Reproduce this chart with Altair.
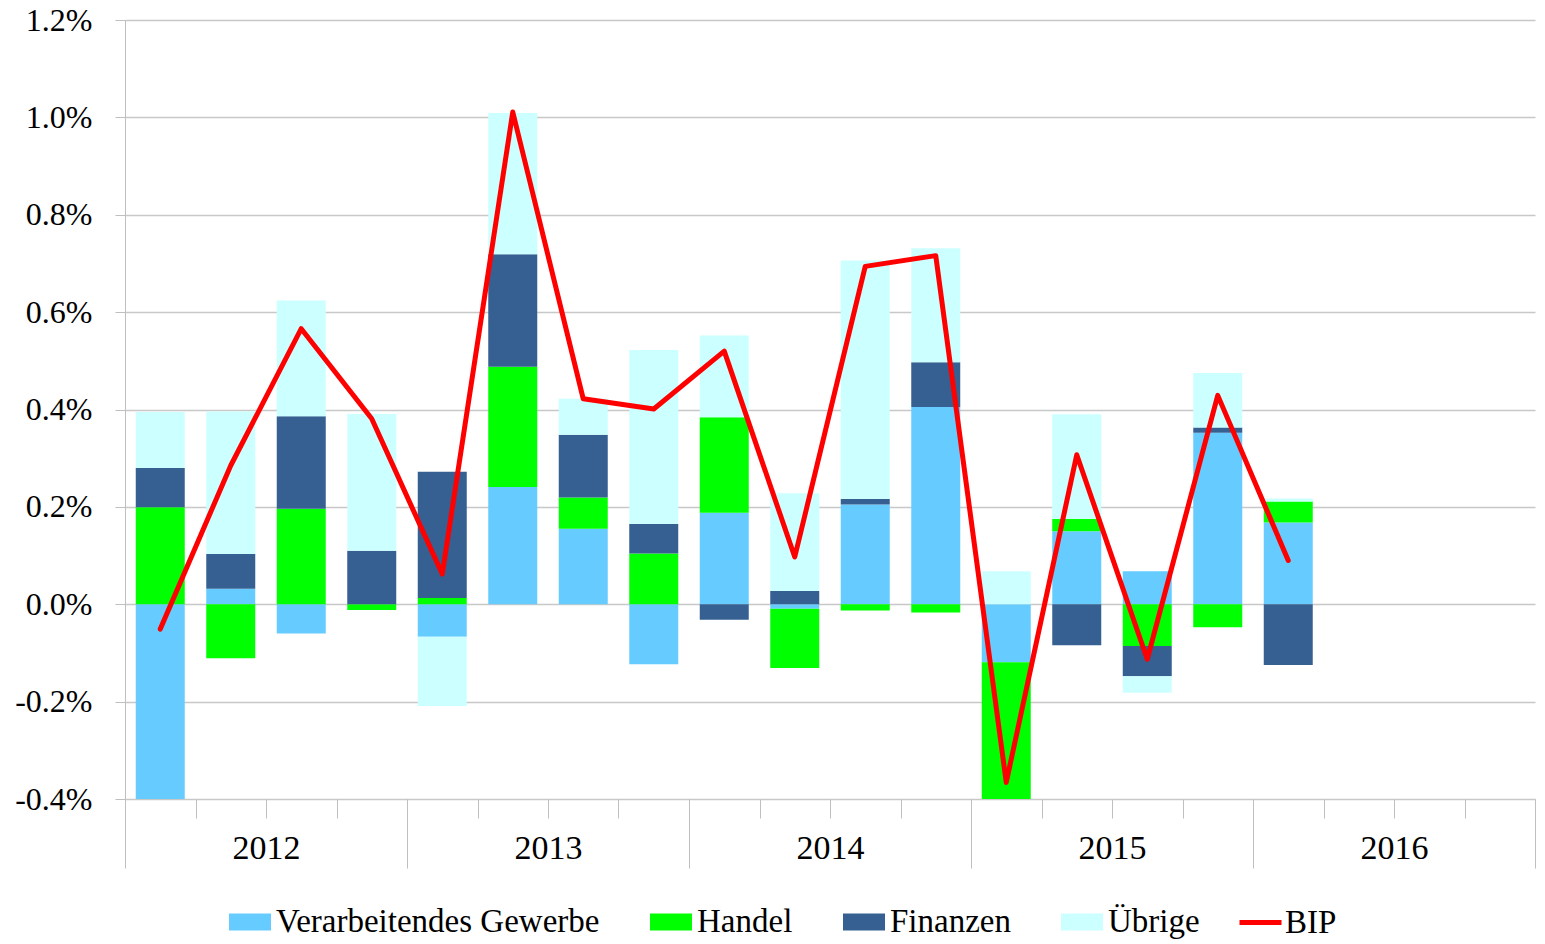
import altair as alt
import pandas as pd

quarters = ["2012Q1", "2012Q2", "2012Q3", "2012Q4",
            "2013Q1", "2013Q2", "2013Q3", "2013Q4",
            "2014Q1", "2014Q2", "2014Q3", "2014Q4",
            "2015Q1", "2015Q2", "2015Q3", "2015Q4",
            "2016Q1"]

series_names = ["Verarbeitendes Gewerbe", "Handel", "Finanzen", "Übrige"]
series_colors = ["#66ccff", "#00ff00", "#366092", "#ccffff"]

verarbeitendes = [-0.44, 0.032, -0.060, 0.0, -0.067, 0.241, 0.155, -0.123, 0.188,
                  -0.009, 0.205, 0.405, -0.119, 0.150, 0.068, 0.352, 0.168]
handel = [0.199, -0.111, 0.196, -0.012, 0.013, 0.247, 0.064, 0.104, 0.196,
          -0.122, -0.013, -0.017, -0.29, 0.025, -0.086, -0.047, 0.043]
finanzen = [0.081, 0.071, 0.190, 0.110, 0.259, 0.231, 0.129, 0.061, -0.032,
            0.027, 0.011, 0.092, 0.0, -0.084, -0.062, 0.011, -0.125]
uebrige = [0.115, 0.293, 0.238, 0.281, -0.142, 0.290, 0.074, 0.357, 0.168,
           0.201, 0.490, 0.234, 0.068, 0.215, -0.034, 0.112, 0.006]
bip = [-0.051, 0.285, 0.566, 0.381, 0.062, 1.011, 0.422, 0.401, 0.520,
       0.097, 0.694, 0.716, -0.366, 0.307, -0.113, 0.429, 0.090]

years = [2012, 2013, 2014, 2015, 2016]
y_ticks = [-0.4, -0.2, 0.0, 0.2, 0.4, 0.6, 0.8, 1.0, 1.2]

n_slots = 4 * len(years)
W = 1410
H = 779
slot = W / n_slots
FONT = "Liberation Serif"
GRID = "#c8c8c8"
TICK = "#bfbfbf"

rows = []
for k, (name, vals) in enumerate(zip(series_names, [verarbeitendes, handel, finanzen, uebrige])):
    for i, q in enumerate(quarters):
        rows.append({"quarter": q, "pos": i + 0.5, "serie": name, "order": k, "value": vals[i]})
bars_df = pd.DataFrame(rows)
line_df = pd.DataFrame({"quarter": quarters, "pos": [i + 0.5 for i in range(len(quarters))],
                        "BIP": bip, "serie": ["BIP"] * len(quarters)})

x_scale = alt.Scale(domain=[0, n_slots], nice=False, zero=False, padding=0)
y_scale = alt.Scale(domain=[y_ticks[0], y_ticks[-1]], nice=False, zero=False)

y_axis = alt.Axis(values=y_ticks, title=None, grid=True, gridColor=GRID, gridWidth=1.5,
                  domain=True, domainColor=TICK, tickColor=TICK, tickSize=10,
                  labelPadding=23, labelFont=FONT, labelFontSize=32, labelColor="black",
                  labelExpr="replace(format(datum.value, '.1f'), '\u2212', '-') + '%'")

bars = alt.Chart(bars_df).mark_bar(size=49, clip=True).encode(
    x=alt.X("pos:Q", scale=x_scale,
            axis=alt.Axis(values=list(range(n_slots + 1)), orient="bottom", tickSize=19,
                          tickColor=TICK, tickWidth=1, labels=False, domain=False,
                          grid=False, title=None)),
    y=alt.Y("value:Q", stack="zero", scale=y_scale, axis=y_axis),
    color=alt.Color("serie:N", scale=alt.Scale(domain=series_names, range=series_colors),
                    legend=alt.Legend(orient="none", legendX=104, legendY=881, direction="horizontal",
                                      columns=4, columnPadding=50, title=None, padding=0,
                                      labelFont=FONT, labelFontSize=33, labelColor="black",
                                      labelOffset=5, labelLimit=600,
                                      symbolType="M-1,-0.405H1V0.405H-1Z", symbolSize=1764,
                                      symbolStrokeWidth=0, symbolOpacity=1)),
    order=alt.Order("order:Q", sort="ascending"),
)

line = alt.Chart(line_df).mark_line(strokeWidth=5, strokeJoin="round", strokeCap="round").encode(
    x=alt.X("pos:Q", scale=x_scale,
            axis=alt.Axis(values=list(range(0, n_slots + 1, 4)), orient="bottom", tickSize=69,
                          tickColor=TICK, tickWidth=1, domain=False, grid=False, title=None,
                          labelExpr="datum.value < 20 ? toString(2012 + datum.value / 4) : ''",
                          labelOffset=2 * slot, labelPadding=-20, labelBaseline="middle",
                          labelFont=FONT, labelFontSize=34, labelColor="black",
                          labelFlush=False, labelOverlap=False, labelBound=False)),
    y=alt.Y("BIP:Q", scale=y_scale, axis=y_axis),
    stroke=alt.Stroke("serie:N", scale=alt.Scale(domain=["BIP"], range=["#ff0000"]),
                      legend=alt.Legend(orient="none", legendX=1112, legendY=879, title=None,
                                        padding=0, labelFont=FONT, labelFontSize=33,
                                        labelColor="black", labelOffset=1,
                                        symbolType="stroke", symbolSize=1764,
                                        symbolStrokeWidth=5)),
)

chart = alt.layer(bars, line).resolve_axis(x="independent", y="shared").resolve_legend(
    color="independent", stroke="independent"
).properties(
    width=W, height=H,
    autosize=alt.AutoSizeParams(type="none"),
    padding={"left": 117, "top": 12, "right": 2, "bottom": 145},
).configure_view(stroke=None)

chart.save("out.html", embed_options={"renderer": "svg", "actions": False})
